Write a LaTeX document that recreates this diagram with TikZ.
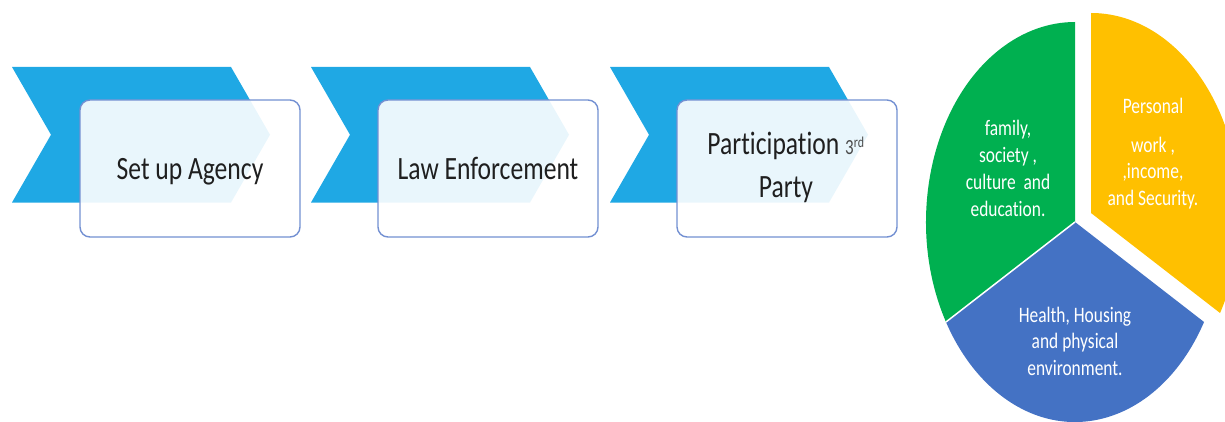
\documentclass[tikz,border=0pt]{standalone}
\usepackage{fontspec}
\setmainfont{Carlito}[Ligatures=CommonOff]
\usepackage{graphicx}

\definecolor{chevblue}{HTML}{1FA8E4}
\definecolor{boxline}{HTML}{7390D2}
\definecolor{piegreen}{HTML}{00B050}
\definecolor{pieyellow}{HTML}{FFC000}
\definecolor{pieblue}{HTML}{4472C4}

% text is set slightly taller than wide
\newcommand\vstretch[1]{\scalebox{1}[1.27]{#1}}
\newcommand\linestack[1]{\begin{tabular}[t]{@{}c@{}}#1\end{tabular}}

\begin{document}
\begin{tikzpicture}[x=1pt, y=-1pt,
  chevron/.style={fill=chevblue},
  stepbox/.style={draw=boxline, line width=1.4pt, rounded corners=10pt,
    fill=white, fill opacity=0.9, minimum width=220pt, minimum height=137pt,
    inner sep=0pt},
  steptext/.style={anchor=base, inner sep=0pt, text=black!88,
    font=\fontsize{25.6}{33.2}\selectfont},
  slicetext/.style={anchor=base, inner sep=0pt, text=white,
    font=\fontsize{17.4}{21}\selectfont}]

\clip (0,0) rectangle (1225,422);

% process chevrons
\foreach \dx in {0,299,598}{
  \fill[chevron] (12+\dx,67) -- (231+\dx,67) -- (270+\dx,134.75)
    -- (231+\dx,202.5) -- (12+\dx,202.5) -- (51+\dx,134.75) -- cycle;
}

% step boxes
\node[stepbox] (box1) at (190,168.5) {};
\node[stepbox] (box2) at (488,168.5) {};
\node[stepbox] (box3) at (787,168.5) {};

\node[steptext] (t1) at (190,180) {\vstretch{Set up Agency}};
\node[steptext] (t2) at (488,179) {\vstretch{Law Enforcement}};
\node[steptext] (t3) at (786,155) {\vstretch{\linestack{Participation
  {\fontsize{17}{17}\selectfont\color{black!70}3\textsuperscript{rd}}\\Party}}};

% exploded pie
\coordinate (pc) at (1075,222);
\fill[piegreen] (pc) -- ++(150:149 and 200)
  arc[start angle=150, end angle=270, x radius=149, y radius=200] -- cycle;
\fill[pieblue] (pc) -- ++(30:149 and 200)
  arc[start angle=30, end angle=150, x radius=149, y radius=200] -- cycle;
\draw[white, line width=1.5pt] (pc) -- ++(150:149 and 200);
\begin{scope}[shift={(16,-9)}]
  \coordinate (pcy) at (1075,222);
  \fill[pieyellow] (pcy) -- ++(-90:149 and 200)
    arc[start angle=-90, end angle=30, x radius=149, y radius=200] -- cycle;
\end{scope}

\node[slicetext] (s1) at (1008,136) {\vstretch{\linestack{family,\\society ,\\culture\ \ and\\education.}}};
\node[slicetext] (s2) at (1153,114) {\vstretch{\linestack{Personal\\[9pt]work ,\\,income,\\and Security.}}};
\node[slicetext] (s3) at (1075,322) {\vstretch{\linestack{Health, Housing\\and physical\\environment.}}};
\end{tikzpicture}
\end{document}
